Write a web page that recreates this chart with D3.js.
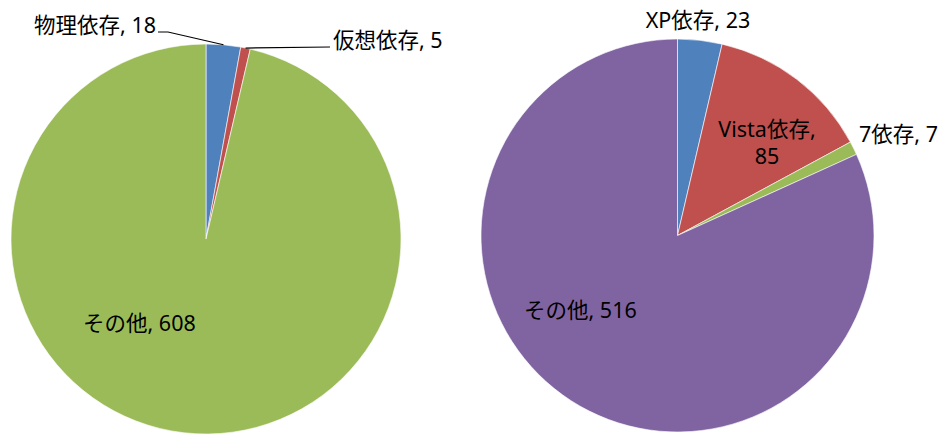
<!DOCTYPE html>
<html lang="ja">
<head>
  <meta charset="UTF-8">
  <title>依存 pie</title>
  <style>
    body { margin: 0; background: #fff; }
    text {
      font-family: "Noto Sans", "Noto Sans CJK JP", sans-serif;
      font-size: 21.5px;
      fill: #000;
    }
  </style>
</head>
<body>
  <div id="app"></div>

  <script src="https://cdn.jsdelivr.net/npm/d3@7"></script>
  <script>
    // left pie
    const leftNames = ['物理依存', '仮想依存', 'その他']
    const leftValues = [18, 5, 608]
    // right pie
    const rightNames = ['XP依存', 'Vista依存', '7依存', 'その他']
    const rightValues = [23, 85, 7, 516]

    const colors = ['#4f81bd', '#c0504d', '#9bbb59', '#8064a2']

    const svg = d3.select('#app').append('svg')
      .attr('width', 942)
      .attr('height', 434)

    const pie = d3.pie().sort(null).value(d => d.value)

    function drawPie(names, values, cx, cy, r, fills, labels) {
      const data = names.map((n, i) => ({ name: n, value: values[i] }))
      const arcs = pie(data)
      const arc = d3.arc().innerRadius(0).outerRadius(r)

      const g = svg.append('g').attr('transform', `translate(${cx},${cy})`)

      g.selectAll('path').data(arcs).enter()
        .append('path')
        .attr('d', arc)
        .attr('fill', (d, i) => fills[i])
        .attr('stroke', '#fff')
        .attr('stroke-width', 0.6)

      arcs.forEach((a, i) => {
        const lb = labels[i]
        const mid = (a.startAngle + a.endAngle) / 2
        const px = r * Math.sin(mid)
        const py = -r * Math.cos(mid)
        if (lb.line) {
          const pts = [[px, py]].concat(lb.line.map(p => [p[0] - cx, p[1] - cy]))
          g.append('path')
            .attr('d', d3.line()(pts))
            .attr('fill', 'none')
            .attr('stroke', '#000')
            .attr('stroke-width', 1.2)
        }
        if (lb.twoLines) {
          // two separate lines, name then value
          g.append('text').attr('text-anchor', 'middle')
            .attr('x', lb.x - cx).attr('y', lb.y - cy).text(`${a.data.name},`)
          g.append('text').attr('text-anchor', 'middle')
            .attr('x', lb.x - cx).attr('y', lb.y - cy + 27.5).text(a.data.value)
        } else {
          g.append('text').attr('text-anchor', lb.anchor || 'start')
            .attr('x', lb.x - cx).attr('y', lb.y - cy).text(`${a.data.name}, ${a.data.value}`)
        }
      })
    }

    drawPie(leftNames, leftValues, 206, 239, 195, [colors[0], colors[1], colors[2]], [
      { x: 156, y: 33, anchor: 'end', line: [[168, 32], [158, 32]] },
      { x: 333, y: 48, line: [[330, 47]] },
      { x: 83, y: 331 }
    ])

    drawPie(rightNames, rightValues, 677.5, 235.5, 196.5, colors, [
      { x: 698, y: 28, anchor: 'middle' },
      { x: 767, y: 136.5, twoLines: true },
      { x: 859, y: 142 },
      { x: 524, y: 318 }
    ])
  </script>
</body>
</html>
